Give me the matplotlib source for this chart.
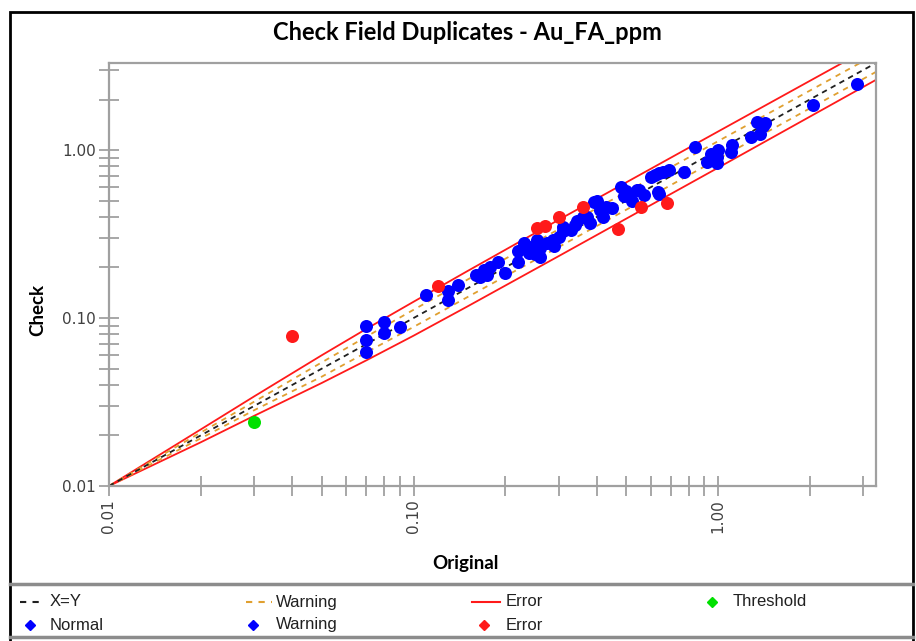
import matplotlib
matplotlib.use("Agg")
import matplotlib.pyplot as plt
from matplotlib.lines import Line2D
from matplotlib.patches import Rectangle
from matplotlib.ticker import FixedLocator, NullFormatter

W, H = 916, 641

# envelope lines (x, upper/lower limits)
ENV_X = [0.01, 0.02, 0.03, 0.05, 0.07, 0.1, 0.15, 0.3, 1.0, 3.5]
XY_Y = [0.01, 0.02, 0.03, 0.05, 0.07, 0.1, 0.15, 0.3, 1.0, 3.5]
WARN_HI = [0.01, 0.0208, 0.0318, 0.0545, 0.0775, 0.112, 0.169, 0.338, 1.13, 3.95]
WARN_LO = [0.01, 0.0192, 0.0283, 0.0448, 0.0625, 0.0885, 0.133, 0.265, 0.885, 3.10]
ERR_HI = [0.01, 0.0217, 0.0342, 0.0601, 0.0862, 0.125, 0.190, 0.385, 1.29, 4.52]
ERR_LO = [0.01, 0.0182, 0.0262, 0.0411, 0.0560, 0.0785, 0.117, 0.234, 0.785, 2.78]

# duplicate pairs (original, check)
normal_x = [0.07, 0.07, 0.07, 0.08, 0.08, 0.09,
            0.13, 0.13, 0.14,
            0.16, 0.17, 0.178, 0.19, 0.174, 0.20, 0.165,
            0.22, 0.23, 0.24, 0.254, 0.26, 0.275, 0.287, 0.30, 0.24, 0.22, 0.26, 0.25,
            0.31, 0.33, 0.344, 0.36, 0.38, 0.31, 0.29,
            0.41, 0.43, 0.42, 0.45, 0.39, 0.37, 0.34,
            0.49, 0.52, 0.54, 0.57, 0.51, 0.55, 0.50,
            0.62, 0.64, 0.69, 0.60, 0.66, 0.77,
            0.92, 0.99, 1.0, 1.11, 1.10, 0.95,
            1.28, 1.34, 1.43, 1.37, 1.40,
            2.05, 2.85]
normal_y = [0.0896, 0.074, 0.063, 0.095, 0.082, 0.088,
            0.144, 0.128, 0.157,
            0.18, 0.193, 0.202, 0.216, 0.18, 0.186, 0.175,
            0.216, 0.28, 0.244, 0.29, 0.23, 0.28, 0.29, 0.305, 0.265, 0.25, 0.26, 0.24,
            0.35, 0.334, 0.38, 0.40, 0.366, 0.33, 0.27,
            0.44, 0.46, 0.40, 0.45, 0.49, 0.40, 0.36,
            0.53, 0.50, 0.58, 0.54, 0.55, 0.58, 0.57,
            0.71, 0.73, 0.76, 0.69, 0.74, 0.74,
            0.85, 0.91, 1.0, 1.07, 0.98, 0.95,
            1.20, 1.476, 1.44, 1.25, 1.40,
            1.85, 2.49]
warn_x = [0.11, 0.40, 0.48, 0.64, 0.635, 0.84, 0.99]
warn_y = [0.137, 0.50, 0.60, 0.55, 0.56, 1.05, 0.84]
error_x = [0.04, 0.12, 0.255, 0.27, 0.30, 0.36, 0.47, 0.56, 0.68]
error_y = [0.078, 0.155, 0.345, 0.355, 0.40, 0.458, 0.339, 0.458, 0.484]
thresh_x = [0.03]
thresh_y = [0.024]

BLUE = "#0000ff"
RED = "#ff1a1a"
GREEN = "#00e000"
ORANGE = "#e0a030"
GRAY = "#a0a0a0"

fig = plt.figure(figsize=(W / 100, H / 100), dpi=100)


def fx(px):
    return px / W


def fy(py):
    return 1 - py / H


ax = fig.add_axes([fx(109), fy(486), fx(876) - fx(109), fy(63) - fy(486)])
ax.set_xscale("log")
ax.set_yscale("log")
ax.set_xlim(0.01, 3.3)
ax.set_ylim(0.01, 3.3)

ax.plot(ENV_X, ERR_HI, color=RED, lw=1.3, zorder=2)
ax.plot(ENV_X, ERR_LO, color=RED, lw=1.3, zorder=2)
ax.plot(ENV_X, WARN_HI, color=ORANGE, lw=1.3, ls=(0, (3, 3)), zorder=2)
ax.plot(ENV_X, WARN_LO, color=ORANGE, lw=1.3, ls=(0, (3, 3)), zorder=2)
ax.plot(ENV_X, XY_Y, color="#202020", lw=1.3, ls=(0, (3, 2.5)), zorder=2)

ms = 88
ax.scatter(normal_x, normal_y, s=ms, color=BLUE, zorder=3, linewidths=0)
ax.scatter(warn_x, warn_y, s=ms, color=BLUE, zorder=3, linewidths=0)
ax.scatter(error_x, error_y, s=ms, color=RED, zorder=3, linewidths=0)
ax.scatter(thresh_x, thresh_y, s=ms, color=GREEN, zorder=3, linewidths=0)

major = [0.01, 0.1, 1.0]
labels = ["0.01", "0.10", "1.00"]
minor = [m * d for d in (0.01, 0.1, 1.0) for m in range(2, 10) if m * d < 3.3]
for axis in (ax.xaxis, ax.yaxis):
    axis.set_major_locator(FixedLocator(major))
    axis.set_minor_locator(FixedLocator(minor))
    axis.set_minor_formatter(NullFormatter())
ax.set_xticklabels(labels, rotation=90, fontsize=11, color="#404040")
ax.set_yticklabels(labels, fontsize=11, color="#404040")
ax.tick_params(which="both", direction="inout", length=15, width=1.3, color=GRAY)
ax.tick_params(axis="x", pad=2)
ax.tick_params(axis="y", pad=2)
for sp in ax.spines.values():
    sp.set_color(GRAY)
    sp.set_linewidth(1.6)

fig.text(fx(467), fy(33), "Check Field Duplicates - Au_FA_ppm", ha="center", va="center",
         fontsize=17, fontweight="bold", family="Lato")
fig.text(fx(465), fy(563), "Original", ha="center", va="center",
         fontsize=13.5, fontweight="bold", family="Lato")
fig.text(fx(38), fy(310), "Check", ha="center", va="center", rotation=90,
         fontsize=13.5, fontweight="bold", family="Lato")

# outer frame and legend separators
fig.add_artist(Rectangle((fx(10), -0.01), fx(913) - fx(10), fy(12) + 0.01,
                         transform=fig.transFigure, fill=False, ec="black", lw=2))
fig.add_artist(Line2D([fx(10), fx(913)], [fy(584), fy(584)], color="#8c8c8c", lw=2.5))
fig.add_artist(Line2D([fx(10), fx(913)], [fy(637), fy(637)], color="#8c8c8c", lw=2.5))

# legend
leg_font = dict(fontsize=12, family="Liberation Sans", va="center", color="#202020")
row1, row2 = fy(602), fy(625)
line_items = [(20, 44, "#202020", (0, (3, 3)), "X=Y", 50),
              (246, 272, ORANGE, (0, (3, 3)), "Warning", 276),
              (472, 500, RED, "-", "Error", 506)]
for x0, x1, c, ls, txt, tx in line_items:
    fig.add_artist(Line2D([fx(x0), fx(x1)], [row1, row1], color=c, lw=1.5, ls=ls))
    fig.text(fx(tx), row1, txt, **leg_font)
pt_items = [(712, row1, GREEN, "Threshold", 733),
            (30, row2, BLUE, "Normal", 50),
            (253, row2, BLUE, "Warning", 276),
            (484, row2, RED, "Error", 506)]
for mx, my, c, txt, tx in pt_items:
    fig.add_artist(Line2D([fx(mx)], [my], marker="D", ms=5, color=c, lw=0))
    fig.text(fx(tx), my, txt, **leg_font)

fig.savefig("out.png", dpi=100)
